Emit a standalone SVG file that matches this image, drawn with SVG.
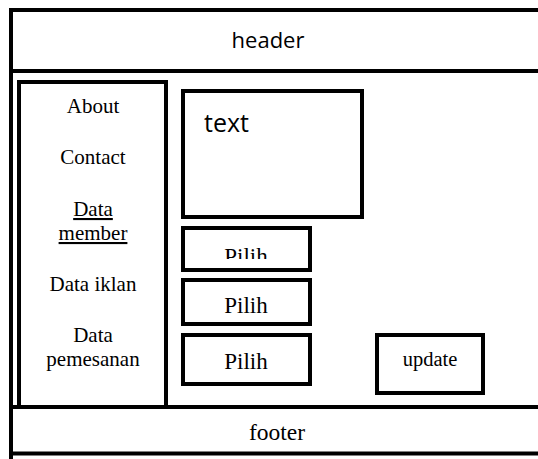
<svg xmlns="http://www.w3.org/2000/svg" width="538" height="459" viewBox="0 0 538 459">
<style>
.ln{stroke:#000;stroke-width:4;fill:none}
.bx{stroke:#000;stroke-width:4;fill:#fff}
.sans{font-family:"Open Sans","DejaVu Sans",sans-serif;fill:#000}
.serif{font-family:"Liberation Serif","Times New Roman",serif;fill:#000}
.mid{text-anchor:middle}
.nav{font-size:21px}
</style>
<defs>
<clipPath id="clipPilih1"><rect x="185" y="230" width="123" height="29"/></clipPath>
</defs>
<rect x="0" y="0" width="538" height="459" fill="#fff"/>
<g id="frame">
<line class="ln" x1="9" y1="10" x2="538" y2="10"/>
<line class="ln" x1="11" y1="8" x2="11" y2="459"/>
</g>
<g id="header">
<line class="ln" x1="11" y1="71" x2="538" y2="71"/>
<text class="sans mid" x="268" y="48" font-size="22">header</text>
</g>
<g id="sidebar">
<rect class="bx" x="19" y="82" width="147" height="325"/>
<text class="serif mid nav" x="93" y="113">About</text>
<text class="serif mid nav" x="93" y="164">Contact</text>
<text class="serif mid nav" x="93" y="216" text-decoration="underline">Data</text>
<text class="serif mid nav" x="93" y="240" text-decoration="underline">member</text>
<text class="serif mid nav" x="93" y="291">Data iklan</text>
<text class="serif mid nav" x="93" y="342">Data</text>
<text class="serif mid nav" x="93" y="366">pemesanan</text>
</g>
<g id="textbox">
<rect class="bx" x="183" y="91" width="179" height="126"/>
<text class="sans" x="204" y="132" font-size="25">text</text>
</g>
<g id="pilih1">
<rect class="bx" x="183" y="228" width="127" height="42"/>
<text class="serif mid" x="246" y="264" font-size="23" clip-path="url(#clipPilih1)">Pilih</text>
</g>
<g id="pilih2">
<rect class="bx" x="183" y="280" width="127" height="44"/>
<text class="serif mid" x="246" y="313" font-size="23">Pilih</text>
</g>
<g id="pilih3">
<rect class="bx" x="183" y="335" width="127" height="49"/>
<text class="serif mid" x="246" y="369" font-size="23">Pilih</text>
</g>
<g id="update">
<rect class="bx" x="377" y="335" width="106" height="58"/>
<text class="serif mid" x="430" y="366" font-size="20.5">update</text>
</g>
<g id="footer">
<line class="ln" x1="11" y1="407" x2="538" y2="407"/>
<line class="ln" x1="11" y1="453.5" x2="538" y2="453.5"/>
<text class="serif mid" x="277" y="440" font-size="23.5">footer</text>
</g>
</svg>
